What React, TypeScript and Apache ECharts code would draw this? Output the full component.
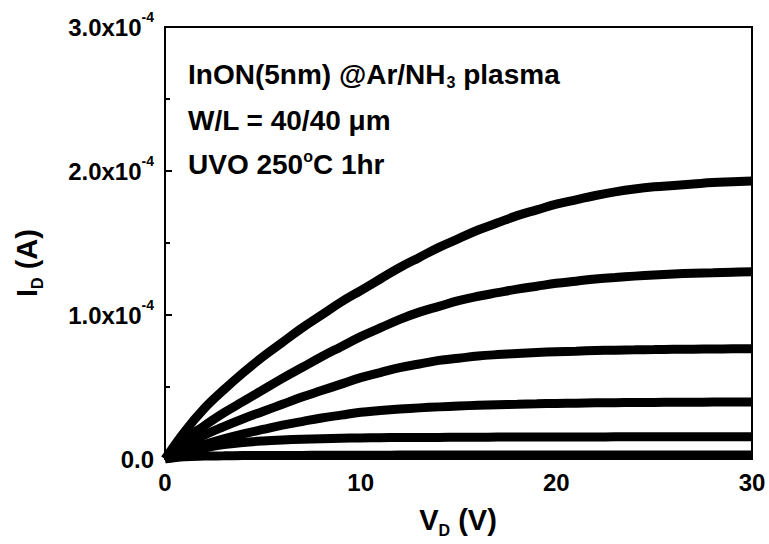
import React, { useEffect, useRef } from "react";
import * as echarts from "echarts";

// Drain voltage (V)
const VD = [0, 1, 2, 3, 4, 5, 6, 7, 8, 9, 10, 11, 12, 13, 14, 15, 16, 17, 18, 19, 20, 21, 22, 23, 24, 25, 26, 27, 28, 29, 30];
// Drain current, in units of 1e-4 A, one curve per gate voltage step
const ID_1 = [0, 0.19, 0.35, 0.48, 0.6, 0.71, 0.81, 0.91, 1.0, 1.09, 1.17, 1.25, 1.33, 1.4, 1.47, 1.53, 1.59, 1.64, 1.69, 1.73, 1.77, 1.8, 1.83, 1.855, 1.875, 1.89, 1.9, 1.91, 1.92, 1.925, 1.93];
const ID_2 = [0, 0.135, 0.23, 0.32, 0.4, 0.48, 0.56, 0.635, 0.71, 0.78, 0.85, 0.91, 0.97, 1.02, 1.06, 1.1, 1.13, 1.155, 1.18, 1.2, 1.22, 1.235, 1.25, 1.26, 1.27, 1.278, 1.285, 1.29, 1.293, 1.297, 1.3];
const ID_3 = [0, 0.09, 0.165, 0.225, 0.28, 0.33, 0.38, 0.43, 0.475, 0.52, 0.565, 0.6, 0.635, 0.66, 0.685, 0.7, 0.715, 0.725, 0.733, 0.74, 0.745, 0.749, 0.753, 0.756, 0.758, 0.76, 0.762, 0.763, 0.764, 0.765, 0.765];
const ID_4 = [0, 0.055, 0.1, 0.14, 0.175, 0.205, 0.235, 0.26, 0.285, 0.305, 0.325, 0.337, 0.347, 0.355, 0.362, 0.368, 0.373, 0.377, 0.38, 0.383, 0.386, 0.388, 0.39, 0.391, 0.392, 0.393, 0.394, 0.394, 0.395, 0.395, 0.395];
const ID_5 = [0, 0.04, 0.075, 0.1, 0.115, 0.125, 0.132, 0.137, 0.141, 0.144, 0.146, 0.148, 0.149, 0.15, 0.15, 0.151, 0.151, 0.152, 0.152, 0.152, 0.153, 0.153, 0.153, 0.154, 0.154, 0.154, 0.154, 0.155, 0.155, 0.155, 0.155];
const ID_6 = [0, 0.015, 0.02, 0.022, 0.024, 0.025, 0.025, 0.025, 0.026, 0.026, 0.026, 0.026, 0.027, 0.027, 0.027, 0.027, 0.027, 0.027, 0.028, 0.028, 0.028, 0.028, 0.028, 0.028, 0.028, 0.028, 0.028, 0.028, 0.028, 0.028, 0.028];
const CURVES = [ID_1, ID_2, ID_3, ID_4, ID_5, ID_6];

const X_MIN = 0, X_MAX = 30, X_STEP = 10;
const Y_MIN = 0, Y_MAX = 3, Y_STEP = 1; // x1e-4 A
const Y_EXP = "-4";

const ANNOT = ["InON(5nm) @Ar/NH", "W/L = 40/40 μm", "UVO 250"];

const FONT = "'Liberation Sans', Arial, Helvetica, sans-serif";

export default function App() {
  const ref = useRef<HTMLDivElement>(null);
  useEffect(() => {
    if (!ref.current) return;
    const chart = echarts.init(ref.current, null, { renderer: "svg" });
    const lab = { fontFamily: FONT, fontWeight: "bold" as const, color: "#000" };
    const option: any = {
      animation: false,
      backgroundColor: "#fff",
      grid: { left: 165, right: 17, top: 27, bottom: 85, show: true, borderColor: "#000", borderWidth: 2 },
      xAxis: {
        type: "value", min: X_MIN, max: X_MAX, interval: X_STEP,
        axisLine: { lineStyle: { color: "#000", width: 2 } },
        axisTick: { inside: true, length: 7, lineStyle: { color: "#000", width: 2 } },
        minorTick: { show: true, splitNumber: 2, length: 5, lineStyle: { color: "#000", width: 2 } },
        splitLine: { show: false },
        axisLabel: { ...lab, fontSize: 24, margin: 11 },
      },
      yAxis: {
        type: "value", min: Y_MIN, max: Y_MAX, interval: Y_STEP,
        axisLine: { lineStyle: { color: "#000", width: 2 } },
        axisTick: { inside: true, length: 7, lineStyle: { color: "#000", width: 2 } },
        minorTick: { show: true, splitNumber: 2, length: 5, lineStyle: { color: "#000", width: 2 } },
        splitLine: { show: false },
        axisLabel: {
          margin: 11,
          formatter: (v: number) => (v === 0 ? "{a|0.0}" : `{a|${v.toFixed(1)}x10}{b|${Y_EXP}}`),
          rich: {
            a: { ...lab, fontSize: 24, lineHeight: 34 },
            b: { ...lab, fontSize: 14, lineHeight: 14, verticalAlign: "top" },
          },
        },
      },
      series: CURVES.map((c) => ({
        type: "line",
        data: VD.map((v, i) => [v, c[i]]),
        showSymbol: false,
        smooth: 0.4,
        lineStyle: { color: "#000", width: 9 },
        itemStyle: { color: "#000" },
        z: 3,
      })),
      graphic: [
        {
          type: "text", left: 188, top: 60, z: 10,
          style: {
            text: `{a|${ANNOT[0]}}{s|3}{a| plasma}`,
            rich: {
              a: { ...lab, fontSize: 28, lineHeight: 32 },
              s: { ...lab, fontSize: 16, lineHeight: 16, verticalAlign: "bottom", padding: [0, 0, 0, 1] },
            },
          },
        },
        {
          type: "text", left: 188, top: 106, z: 10,
          style: { text: `{a|${ANNOT[1]}}`, rich: { a: { ...lab, fontSize: 28, lineHeight: 32 } } },
        },
        {
          type: "text", left: 188, top: 148, z: 10,
          style: {
            text: `{a|${ANNOT[2]}}{o|o}{a|C 1hr}`,
            rich: {
              a: { ...lab, fontSize: 28, lineHeight: 32 },
              o: { ...lab, fontSize: 16, lineHeight: 16, verticalAlign: "top" },
            },
          },
        },
        {
          type: "text", x: 458, y: 520, z: 10,
          style: {
            text: "{a|V}{s|D}{a| (V)}", align: "center", verticalAlign: "middle",
            rich: {
              a: { ...lab, fontSize: 29, lineHeight: 36 },
              s: { ...lab, fontSize: 16, lineHeight: 16, verticalAlign: "bottom" },
            },
          },
        },
        {
          type: "text", x: 27, y: 263, rotation: Math.PI / 2, z: 10,
          style: {
            text: "{a|I}{s|D}{a| (A)}", align: "center", verticalAlign: "middle",
            rich: {
              a: { ...lab, fontSize: 29, lineHeight: 36 },
              s: { ...lab, fontSize: 16, lineHeight: 16, verticalAlign: "bottom" },
            },
          },
        },
      ],
    };
    chart.setOption(option);
    return () => chart.dispose();
  }, []);
  return <div ref={ref} style={{ width: 769, height: 544, position: "fixed", left: 0, top: 0 }} />;
}
